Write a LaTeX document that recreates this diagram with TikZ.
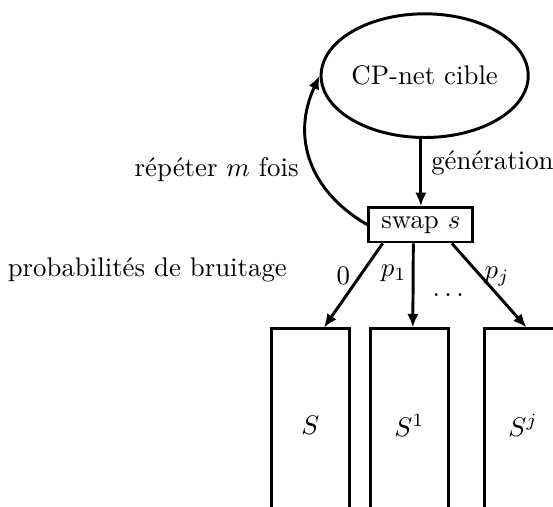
\documentclass[tikz,border=0pt]{standalone}
\usepackage{amsmath,amssymb}
\usepackage{tikz}
\usetikzlibrary{shapes,arrows.meta,positioning}

\begin{document}
\begin{tikzpicture}[node distance=0.9cm,
    target/.style={ellipse, draw, line width=1.1pt, inner sep=0pt,
                   minimum width=2.65cm, minimum height=1.62cm},
    swapbox/.style={rectangle, draw, line width=1.1pt,
                    minimum width=1.36cm, minimum height=0.45cm, inner sep=2pt},
    sample/.style={rectangle, draw, line width=1.1pt,
                   minimum width=1.02cm, minimum height=2.52cm},
    arrow/.style={line width=1.1pt,->,>={Latex[length=5pt,width=4.2pt]}}]

\clip (0,0) rectangle (7.244,-6.629);

\node[target] (cible) at (5.563,-0.991) {CP-net cible};
\node[swapbox, below=0.88cm of cible, xshift=-0.05cm] (swap) {swap $s$};

\node[sample, below=1.1cm of swap, xshift=-0.15cm] (S1) {$S^1$};
\node[sample, left=0.24cm of S1] (S0) {$S$};
\node[sample, right=0.43cm of S1] (Sj) {$S^j$};

\node (bruit) at (1.93,-3.54) {probabilités de bruitage};
\node (dots) at (5.90,-3.87) {$\dots$};

\draw[arrow] (swap.north |- cible.south) -- node[right, pos=0.35] {génération} (swap.north);
\draw[arrow] (swap.west) to[out=150, in=245, looseness=1.1] node[left, pos=0.44, xshift=-2pt] {répéter $m$ fois} (cible.west);

\draw[arrow] (swap.-154) -- node[left, pos=0.38] {$0$} (S0.82);
\draw[arrow] (swap.-112) -- node[left, pos=0.36, inner sep=2pt] {$p_1$} (S1.88);
\draw[arrow] (swap.-31) -- node[right, pos=0.3, yshift=-3pt] {$p_j$} (Sj.88);
\end{tikzpicture}
\end{document}
